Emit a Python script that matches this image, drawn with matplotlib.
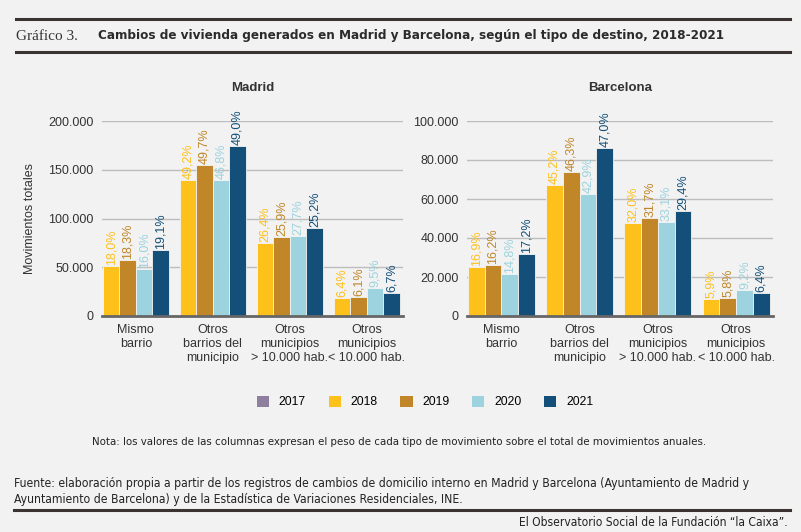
import matplotlib
matplotlib.use("Agg")
import matplotlib.pyplot as plt
from matplotlib.patches import Patch
import numpy as np

categories = ["Mismo\nbarrio", "Otros\nbarrios del\nmunicipio",
              "Otros\nmunicipios\n> 10.000 hab.", "Otros\nmunicipios\n< 10.000 hab."]
years = ["2017", "2018", "2019", "2020", "2021"]
colors = ["#8f7f9f", "#fec01b", "#c08628", "#9cd3de", "#134f79"]

madrid = {
    "2018": [51600, 139800, 74900, 18500],
    "2019": [57100, 154900, 81000, 19500],
    "2020": [47900, 139500, 82000, 28400],
    "2021": [68000, 174000, 89900, 23900],
}
madrid_pct = {
    "2018": ["18,0%", "49,2%", "26,4%", "6,4%"],
    "2019": ["18,3%", "49,7%", "25,9%", "6,1%"],
    "2020": ["16,0%", "46,8%", "27,7%", "9,5%"],
    "2021": ["19,1%", "49,0%", "25,2%", "6,7%"],
}
barcelona = {
    "2018": [25300, 67300, 47700, 8900],
    "2019": [26000, 73700, 50400, 9200],
    "2020": [21700, 62400, 48000, 13500],
    "2021": [31600, 86200, 54000, 12000],
}
barcelona_pct = {
    "2018": ["16,9%", "45,2%", "32,0%", "5,9%"],
    "2019": ["16,2%", "46,3%", "31,7%", "5,8%"],
    "2020": ["14,8%", "42,9%", "33,1%", "9,2%"],
    "2021": ["17,2%", "47,0%", "29,4%", "6,4%"],
}
madrid_ticks = [0, 50000, 100000, 150000, 200000]
barcelona_ticks = [0, 20000, 40000, 60000, 80000, 100000]

BG = "#f2f2f2"
TXT = "#333333"
sans = ["Liberation Sans", "DejaVu Sans"]
cond = ["DejaVu Sans"]

fig = plt.figure(figsize=(8.01, 5.32), dpi=100, facecolor=BG)

def fmt(v):
    return f"{v:,}".replace(",", ".")

def draw(ax, data, pct, ticks, title):
    ax.set_facecolor(BG)
    x = np.arange(len(categories))
    w = 0.214
    plot_years = ["2018", "2019", "2020", "2021"]
    for i, yr in enumerate(plot_years):
        c = colors[years.index(yr)]
        xs = x + (i - 1.5) * w
        ax.bar(xs, data[yr], width=w, color=c, edgecolor="#f4f4f4", linewidth=0.6, zorder=3)
        for xi, v, lab in zip(xs, data[yr], pct[yr]):
            ax.text(xi, v + ticks[-1] * 0.005, lab, rotation=90, ha="center", va="bottom",
                    color=c, fontsize=9, family=sans, clip_on=False, zorder=4)
    ax.set_ylim(0, ticks[-1])
    ax.set_xlim(-0.44, 3.47)
    ax.set_yticks(ticks)
    ax.set_yticklabels([fmt(t) for t in ticks], fontsize=9, color=TXT, family=sans)
    ax.set_xticks(x)
    ax.set_xticklabels(categories, fontsize=9, color=TXT, family=sans, linespacing=1.2)
    ax.tick_params(length=0, pad=6)
    ax.tick_params(axis="x", pad=6)
    ax.yaxis.grid(True, color="#bdbdbd", linewidth=1.0, zorder=0)
    ax.set_axisbelow(True)
    for s in ["top", "right", "left"]:
        ax.spines[s].set_visible(False)
    ax.spines["bottom"].set_color("#666666")
    ax.spines["bottom"].set_linewidth(2)
    ax.spines["bottom"].set_zorder(5)
    ax.text(0.5, 1.0 + 33 / 195, title, transform=ax.transAxes, ha="center", va="center",
            fontsize=9.5, fontweight="bold", color=TXT, family=sans)

ax1 = fig.add_axes([102 / 801, 1 - 316 / 532, 301 / 801, 195 / 532])
ax2 = fig.add_axes([467 / 801, 1 - 316 / 532, 306 / 801, 195 / 532])
draw(ax1, madrid, madrid_pct, madrid_ticks, "Madrid")
draw(ax2, barcelona, barcelona_pct, barcelona_ticks, "Barcelona")
ax1.set_ylabel("Movimientos totales", fontsize=9, color=TXT, family=sans, labelpad=9)

# Legend
handles = [Patch(facecolor=c, edgecolor="none") for c in colors]
fig.legend(handles, years, loc="center", bbox_to_anchor=(425 / 801, 1 - 402 / 532), ncol=5,
           frameon=False, handlelength=1.0, handleheight=1.0, columnspacing=1.9,
           handletextpad=0.8, prop={"family": sans, "size": 8.7})

renderer = fig.canvas.get_renderer()

def fit(t, target):
    for _ in range(3):
        bb = t.get_window_extent(renderer)
        t.set_fontsize(t.get_fontsize() * target / bb.width)

# Header
fig.add_artist(plt.Line2D([16 / 801, 790 / 801], [1 - 19 / 532] * 2, color="#3a3331", lw=2.2))
fig.add_artist(plt.Line2D([16 / 801, 790 / 801], [1 - 52 / 532] * 2, color="#3a3331", lw=2.2))
fig.text(16 / 801, 1 - 36 / 532, "Gráfico 3.", fontsize=11, family=["Liberation Serif", "DejaVu Serif"],
         color=TXT, va="center", ha="left")
t_title = fig.text(98 / 801, 1 - 36 / 532,
         "Cambios de vivienda generados en Madrid y Barcelona, según el tipo de destino, 2018-2021",
         fontsize=10, fontweight="bold", family=cond, fontstretch="condensed",
         color="#2b2b2b", va="center", ha="left")
fit(t_title, 625)

# Footer
t_nota = fig.text(399 / 801, 1 - 442 / 532,
         "Nota: los valores de las columnas expresan el peso de cada tipo de movimiento sobre el total de movimientos anuales.",
         fontsize=8.5, family=cond, fontstretch="condensed", color="#222222", ha="center", va="center")
fit(t_nota, 614)
t_fuente = fig.text(14 / 801, 1 - 491 / 532,
         "Fuente: elaboración propia a partir de los registros de cambios de domicilio interno en Madrid y Barcelona (Ayuntamiento de Madrid y\n"
         "Ayuntamiento de Barcelona) y de la Estadística de Variaciones Residenciales, INE.",
         fontsize=8.5, family=cond, fontstretch="condensed", color="#222222", ha="left", va="center",
         linespacing=1.3)
fit(t_fuente, 738)
fig.add_artist(plt.Line2D([14 / 801, 790 / 801], [1 - 510 / 532] * 2, color="#3a3331", lw=2.2))
t_cred = fig.text(788 / 801, 1 - 522 / 532, "El Observatorio Social de la Fundación “la Caixa”.",
         fontsize=8.5, family=cond, fontstretch="condensed", color="#222222", ha="right", va="center")
fit(t_cred, 269)

fig.savefig("out.png", dpi=100, facecolor=BG)
